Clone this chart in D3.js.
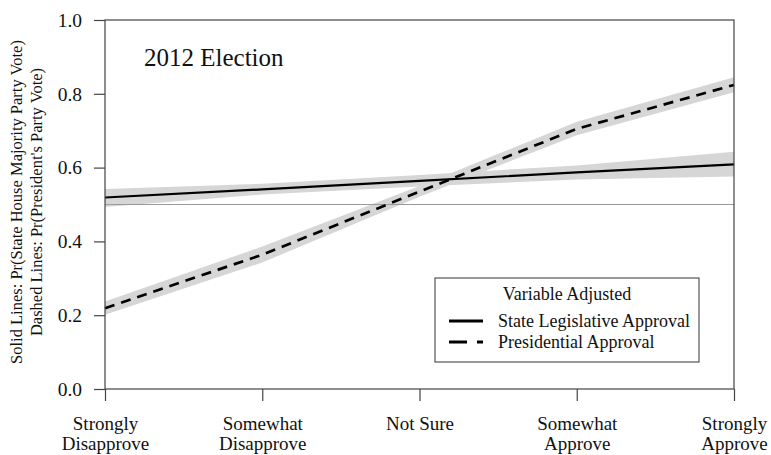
<!DOCTYPE html>
<html>
<head>
<meta charset="utf-8">
<script src="https://cdn.jsdelivr.net/npm/d3@7"></script>
<style>
  html, body { margin: 0; padding: 0; background: #fff; }
  svg text { font-family: "Liberation Serif", "DejaVu Serif", serif; fill: #111; }
</style>
</head>
<body>
<svg id="chart" width="771" height="455"></svg>
<script>
// Response categories on the approval scale
const categories = ["Strongly|Disapprove", "Somewhat|Disapprove", "Not Sure", "Somewhat|Approve", "Strongly|Approve"];

// State legislative approval: predicted probability and interval
const legislativeMean = [0.519, 0.541, 0.564, 0.587, 0.609];
const legislativeLow  = [0.493, 0.527, 0.549, 0.568, 0.576];
const legislativeHigh = [0.542, 0.556, 0.580, 0.606, 0.643];

// Presidential approval: predicted probability and interval
const presidentialMean = [0.219, 0.364, 0.535, 0.705, 0.824];
const presidentialLow  = [0.201, 0.343, 0.521, 0.688, 0.804];
const presidentialHigh = [0.237, 0.386, 0.550, 0.724, 0.845];

const yTicks = [0, 0.2, 0.4, 0.6, 0.8, 1.0];
const referenceLevel = 0.5;

const svg = d3.select("#chart");
const plotLeft = 105, plotRight = 734, plotTop = 20, plotBottom = 389;

const x = d3.scalePoint().domain(categories).range([plotLeft, plotRight]);
const y = d3.scaleLinear().domain([0, 1]).range([plotBottom, plotTop]);

// Confidence bands
function band(low, high) {
  return d3.area()
    .x((d, i) => x(categories[i]))
    .y0((d, i) => y(low[i]))
    .y1((d, i) => y(high[i]))(low);
}
svg.append("path").attr("d", band(legislativeLow, legislativeHigh)).attr("fill", "#d6d6d6");
svg.append("path").attr("d", band(presidentialLow, presidentialHigh)).attr("fill", "#d6d6d6");

// Reference line at one-half
svg.append("line")
  .attr("x1", plotLeft).attr("x2", plotRight)
  .attr("y1", y(referenceLevel)).attr("y2", y(referenceLevel))
  .attr("stroke", "#9a9a9a").attr("stroke-width", 1);

// Point estimates
const line = d3.line().x((d, i) => x(categories[i])).y(d => y(d));
svg.append("path").attr("d", line(legislativeMean))
  .attr("fill", "none").attr("stroke", "#000").attr("stroke-width", 2.2);
svg.append("path").attr("d", line(presidentialMean))
  .attr("fill", "none").attr("stroke", "#000").attr("stroke-width", 2.7)
  .attr("stroke-dasharray", "10,7");

// Plot frame
svg.append("rect")
  .attr("x", plotLeft).attr("y", plotTop)
  .attr("width", plotRight - plotLeft).attr("height", plotBottom - plotTop)
  .attr("fill", "none").attr("stroke", "#444").attr("stroke-width", 1.2);

// Y axis
const yAxis = svg.append("g")
  .attr("transform", `translate(${plotLeft},0)`)
  .call(d3.axisLeft(y).tickValues(yTicks).tickFormat(d3.format(".1f")).tickSize(11).tickPadding(12));
yAxis.select(".domain").remove();
yAxis.selectAll(".tick line").attr("stroke", "#444").attr("stroke-width", 1.2);
yAxis.selectAll(".tick text").attr("font-size", 19.5).attr("font-family", "Liberation Serif").attr("fill", "#111");

// X axis with two-line labels
const xAxis = svg.append("g")
  .attr("transform", `translate(0,${plotBottom})`)
  .call(d3.axisBottom(x).tickSize(12).tickFormat(""));
xAxis.select(".domain").remove();
xAxis.selectAll(".tick line").attr("stroke", "#444").attr("stroke-width", 1.2);
xAxis.selectAll(".tick").each(function(d) {
  const parts = d.split("|");
  const t = d3.select(this).append("text")
    .attr("text-anchor", "middle")
    .attr("font-size", 19)
    .attr("fill", "#111");
  parts.forEach((p, i) => {
    t.append("tspan").attr("x", 0).attr("y", 41 + i * 20).text(p);
  });
});

// Panel title
svg.append("text").attr("x", 144).attr("y", 66)
  .attr("font-size", 25).text("2012 Election");

// Y axis label (two lines)
const yLab = svg.append("g").attr("transform", "translate(0,202) rotate(-90)");
yLab.append("text").attr("x", 0).attr("y", 22).attr("text-anchor", "middle")
  .attr("font-size", 16.5).text("Solid Lines:  Pr(State House Majority Party Vote)");
yLab.append("text").attr("x", 0).attr("y", 42).attr("text-anchor", "middle")
  .attr("font-size", 16.5).text("Dashed Lines:  Pr(President's Party Vote)");

// Legend
const legend = svg.append("g");
legend.append("rect").attr("x", 435).attr("y", 278).attr("width", 264).attr("height", 84)
  .attr("fill", "#fff").attr("stroke", "#333").attr("stroke-width", 1);
legend.append("text").attr("x", 567).attr("y", 300).attr("text-anchor", "middle")
  .attr("font-size", 18).text("Variable Adjusted");
const legendItems = [
  { label: "State Legislative Approval", dash: null },
  { label: "Presidential Approval", dash: "18,10" }
];
legendItems.forEach((item, i) => {
  const yy = 321 + i * 21;
  legend.append("line").attr("x1", 449).attr("x2", 483).attr("y1", yy).attr("y2", yy)
    .attr("stroke", "#000").attr("stroke-width", 3)
    .attr("stroke-dasharray", item.dash);
  legend.append("text").attr("x", 498).attr("y", yy + 6).attr("font-size", 18).text(item.label);
});
</script>
</body>
</html>
